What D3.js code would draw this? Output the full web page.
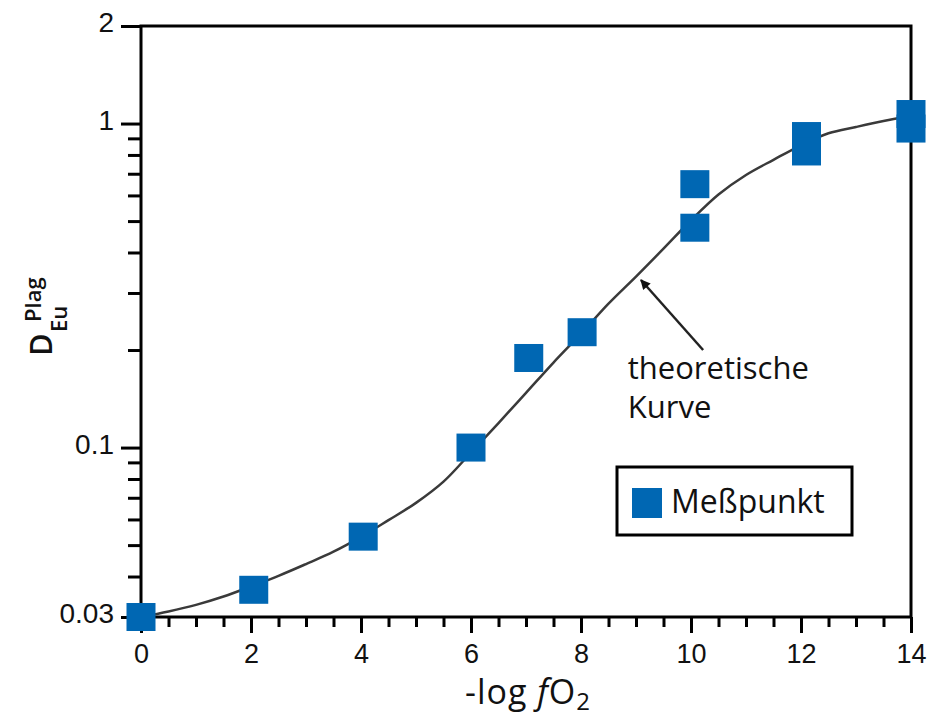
<!DOCTYPE html>
<html>
<head>
<meta charset="utf-8">
<script src="https://cdn.jsdelivr.net/npm/d3@7"></script>
<style>
  html, body { margin: 0; padding: 0; background: #fff; }
  svg { display: block; font-family: "Open Sans", "Noto Sans", sans-serif; }
</style>
</head>
<body>
<svg id="chart" width="937" height="716"></svg>
<script>
// Measured points (Meßpunkt)
const pointX = [0, 2.05, 4.04, 6, 7.05, 8.02, 10.07, 10.07, 12.1, 12.1, 14, 14];
const pointY = [0.030, 0.0364, 0.0531, 0.100, 0.189, 0.227, 0.65, 0.477, 0.915, 0.82, 1.07, 0.965];

// Theoretical curve (theoretische Kurve)
const curveX = [0, 0.5, 1, 1.5, 2, 2.5, 3, 3.5, 4, 4.5, 5, 5.5, 6, 6.5, 7, 7.5, 8, 8.5, 9, 9.5, 10, 10.5, 11, 11.5, 12, 12.5, 13, 13.5, 14];
const curveY = [0.0300, 0.0312, 0.0327, 0.0347, 0.0373, 0.0402, 0.0437, 0.0477, 0.0530, 0.0597, 0.0675, 0.0785, 0.0965, 0.119, 0.1475, 0.183, 0.2245, 0.278, 0.337, 0.411, 0.503, 0.604, 0.694, 0.773, 0.857, 0.933, 0.976, 1.018, 1.055];

// Axis ticks
const xMajorTicks = [0, 2, 4, 6, 8, 10, 12, 14];
const xMinorTicks = [0.5, 1, 1.5, 2.5, 3, 3.5, 4.5, 5, 5.5, 6.5, 7, 7.5, 8.5, 9, 9.5, 10.5, 11, 11.5, 12.5, 13, 13.5];
const yMajorTicks = [0.03, 0.1, 1, 2];
const yMajorLabels = ["0.03", "0.1", "1", "2"];
const yMinorTicks = [0.04, 0.05, 0.06, 0.07, 0.08, 0.09, 0.2, 0.3, 0.4, 0.5, 0.6, 0.7, 0.8, 0.9];

const legendLabel = "Meßpunkt";
const annotationLines = ["theoretische", "Kurve"];

const BLUE = "#0067b3";
const svg = d3.select("#chart");
const L = 141, R = 911, T = 26, B = 617;

const x = d3.scaleLinear().domain([0, 14]).range([L, R]);
const y = d3.scaleLog().domain([0.03, 2]).range([B, T]);

// X axis ticks
const xMaj = svg.append("g").attr("transform", `translate(0,${B})`)
  .call(d3.axisBottom(x).tickValues(xMajorTicks).tickSize(16).tickPadding(0).tickFormat(d3.format("d")));
xMaj.select(".domain").remove();
xMaj.selectAll("line").attr("stroke", "#000").attr("stroke-width", 3);
xMaj.selectAll("text").attr("y", 46).attr("dy", null).attr("font-size", 27)
  .attr("font-weight", 500).attr("fill", "#111");

const xMin = svg.append("g").attr("transform", `translate(0,${B})`)
  .call(d3.axisBottom(x).tickValues(xMinorTicks).tickSize(10).tickFormat(""));
xMin.select(".domain").remove();
xMin.selectAll("line").attr("stroke", "#000").attr("stroke-width", 3);

// Y axis ticks
const yMaj = svg.append("g").attr("transform", `translate(${L},0)`)
  .call(d3.axisLeft(y).tickValues(yMajorTicks).tickSize(20).tickPadding(7)
    .tickFormat((d, i) => yMajorLabels[i]));
yMaj.select(".domain").remove();
yMaj.selectAll("line").attr("stroke", "#000").attr("stroke-width", 3);
yMaj.selectAll("text").attr("font-size", 28).attr("font-weight", 500)
  .attr("fill", "#111").attr("dy", "0.2em");

const yMin = svg.append("g").attr("transform", `translate(${L},0)`)
  .call(d3.axisLeft(y).tickValues(yMinorTicks).tickSize(13).tickFormat(""));
yMin.select(".domain").remove();
yMin.selectAll("line").attr("stroke", "#000").attr("stroke-width", 3);

// Frame
svg.append("rect").attr("x", L).attr("y", T).attr("width", R - L).attr("height", B - T)
  .attr("fill", "none").attr("stroke", "#000").attr("stroke-width", 3);

// Curve
const line = d3.line().x((d, i) => x(curveX[i])).y((d, i) => y(curveY[i])).curve(d3.curveCatmullRom);
svg.append("path").datum(curveX).attr("d", line)
  .attr("fill", "none").attr("stroke", "#3a3a3a").attr("stroke-width", 2.5);

// Points
const SW = 29, SH = 28;
svg.append("g").selectAll("rect").data(pointX).join("rect")
  .attr("x", (d) => x(d) - SW / 2)
  .attr("y", (d, i) => y(pointY[i]) - SH / 2)
  .attr("width", SW).attr("height", SH)
  .attr("fill", BLUE);

// Arrow annotation
const defs = svg.append("defs");
defs.append("marker").attr("id", "ah").attr("viewBox", "0 0 10 10")
  .attr("refX", 9).attr("refY", 5).attr("markerWidth", 15).attr("markerHeight", 10)
  .attr("markerUnits", "userSpaceOnUse").attr("orient", "auto")
  .append("path").attr("d", "M0,0 L10,5 L0,10 Z").attr("fill", "#111");
svg.append("line")
  .attr("x1", x(10.22)).attr("y1", y(0.200))
  .attr("x2", x(9.09)).attr("y2", y(0.329))
  .attr("stroke", "#222").attr("stroke-width", 2.5).attr("marker-end", "url(#ah)");

svg.append("g").selectAll("text").data(annotationLines).join("text")
  .attr("x", x(8.85)).attr("y", (d, i) => 379 + i * 39)
  .attr("font-size", 31).attr("fill", "#111").text(d => d);

// Legend
const lg = svg.append("g");
lg.append("rect").attr("x", 617).attr("y", 467).attr("width", 235).attr("height", 68)
  .attr("fill", "#fff").attr("stroke", "#000").attr("stroke-width", 3);
lg.append("rect").attr("x", 632).attr("y", 488).attr("width", 30).attr("height", 30).attr("fill", BLUE);
lg.append("text").attr("x", 671).attr("y", 513).attr("font-size", 32).attr("font-weight", 500)
  .attr("fill", "#111").text(legendLabel);

// X axis title: -log fO2
const xt = svg.append("text").attr("x", 528).attr("y", 704)
  .attr("text-anchor", "middle").attr("font-size", 34).attr("letter-spacing", 1)
  .attr("font-weight", 500).attr("fill", "#111");
xt.append("tspan").text("-log ");
xt.append("tspan").attr("font-style", "italic").text("f");
xt.append("tspan").text("O");
xt.append("tspan").attr("font-size", 24).attr("dy", 6).text("2");

// Y axis title: D with sup Plag, sub Eu
const yt = svg.append("g").attr("transform", "translate(52,356) rotate(-90)")
  .attr("font-weight", 600).attr("fill", "#111");
yt.append("text").attr("x", 0).attr("y", 0).attr("font-size", 31).text("D");
yt.append("text").attr("x", 24).attr("y", 15).attr("font-size", 22).text("Eu");
yt.append("text").attr("x", 34).attr("y", -11).attr("font-size", 22).text("Plag");
</script>
</body>
</html>
